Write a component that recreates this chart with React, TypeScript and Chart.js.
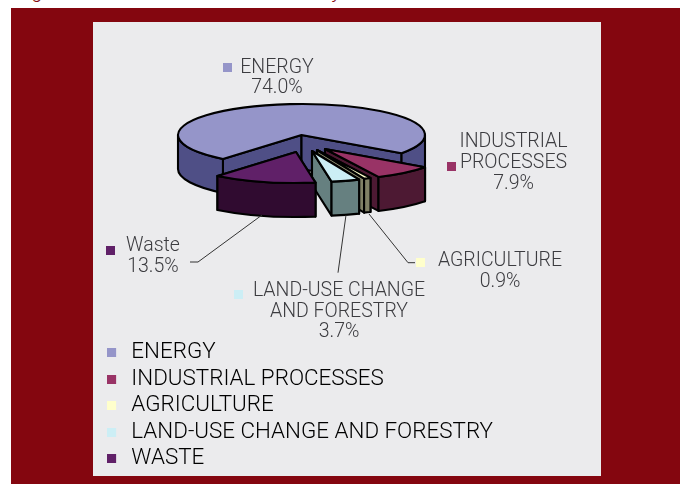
import React, { useEffect, useRef } from "react";
import { Chart, registerables } from "chart.js";

Chart.register(...registerables);

const categories = ["ENERGY", "INDUSTRIAL PROCESSES", "AGRICULTURE", "LAND-USE CHANGE AND FORESTRY", "WASTE"];
const shares = [74.0, 7.9, 0.9, 3.7, 13.5];
const topColors = ["#9595C9", "#993366", "#FFFFCC", "#CCEEF5", "#602068"];
const sideColors = ["#4F4F86", "#4D1933", "#808066", "#668080", "#300B30"];
const calloutLines = [["ENERGY"], ["INDUSTRIAL", "PROCESSES"], ["AGRICULTURE"], ["LAND-USE CHANGE", "AND FORESTRY"], ["Waste"]];

const FONT = "Roboto";
const TEXT = "#3c3c40";
const PIE = { cx: 301.5, cy: 135, rx: 123.5, ry: 31, depth: 34 };
const explodeX = [0, 23.5, 15.5, 10.5, -5.5];
const explodeY = [0, 14, 15, 16, 17];
const calloutLayout = [
  { x: 277, y: [72.7, 93.4], sq: [223, 63], leader: null },
  { x: 513.5, y: [146.7, 168.4, 188.7], sq: [447, 162], leader: null },
  { x: 500, y: [265.7, 286.7], sq: [416, 258], leader: [[415, 262.7], [408, 262.7], [369, 214]] },
  { x: 339, y: [295.7, 317.4, 337.4], sq: [234, 290], leader: [[338, 272.7], [346, 215]] },
  { x: 153, y: [251.4, 272.4], sq: [106, 246], leader: [[190, 262], [198, 262], [262, 215]] },
];

const pie3d = {
  id: "pie3d",
  afterLayout(chart: any) {
    const lg = chart.legend;
    lg.width = 500;
    lg.right = lg.left + 500;
  },
  beforeDatasetDraw(chart: any) {
    const ctx = chart.ctx;
    const arcs = chart.getDatasetMeta(0).data;
    const { rx, ry, depth } = PIE;
    arcs.forEach((arc: any, i: number) => {
      const cx = PIE.cx + explodeX[i];
      const cy = PIE.cy + explodeY[i];
      const a0 = arc.startAngle;
      const a1 = arc.endAngle;
      ctx.save();
      ctx.lineWidth = 2.1;
      ctx.lineJoin = "round";
      ctx.strokeStyle = "#000";
      ctx.fillStyle = sideColors[i];
      [a0, a1].forEach((a: number) => {
        const px = cx + rx * Math.cos(a);
        const py = cy + ry * Math.sin(a);
        ctx.beginPath();
        ctx.moveTo(cx, cy);
        ctx.lineTo(px, py);
        ctx.lineTo(px, py + depth);
        ctx.lineTo(cx, cy + depth);
        ctx.closePath();
        ctx.fill();
        ctx.stroke();
      });
      [0, 1].forEach((k) => {
        const lo = Math.max(a0, 2 * Math.PI * k);
        const hi = Math.min(a1, 2 * Math.PI * k + Math.PI);
        if (hi <= lo) return;
        ctx.beginPath();
        ctx.ellipse(cx, cy, rx, ry, 0, lo, hi);
        ctx.ellipse(cx, cy + depth, rx, ry, 0, hi, lo, true);
        ctx.closePath();
        ctx.fill();
        ctx.stroke();
      });
      ctx.save();
      ctx.translate(cx, cy);
      ctx.scale(rx / arc.outerRadius, ry / arc.outerRadius);
      ctx.translate(-arc.x, -arc.y);
      arc.draw(ctx);
      ctx.restore();
      ctx.beginPath();
      ctx.moveTo(cx, cy);
      ctx.ellipse(cx, cy, rx, ry, 0, a0, a1);
      ctx.closePath();
      ctx.stroke();
      ctx.restore();
    });
    return false;
  },
  afterDatasetsDraw(chart: any) {
    const ctx = chart.ctx;
    ctx.save();
    calloutLayout.forEach((c, i) => {
      ctx.fillStyle = topColors[i];
      ctx.fillRect(c.sq[0], c.sq[1], 9, 9);
      if (c.leader) {
        ctx.beginPath();
        ctx.strokeStyle = "#333";
        ctx.lineWidth = 1;
        c.leader.forEach((p, j) => (j ? ctx.lineTo(p[0], p[1]) : ctx.moveTo(p[0], p[1])));
        ctx.stroke();
      }
      ctx.fillStyle = TEXT;
      ctx.textAlign = "center";
      ctx.textBaseline = "alphabetic";
      ctx.font = `300 19.5px ${FONT}`;
      const lines = [...calloutLines[i], `${shares[i].toFixed(1)}%`];
      lines.forEach((t, j) => ctx.fillText(t, c.x, c.y[j]));
    });
    ctx.restore();
  },
};

function legendMarker(color: string) {
  const c = document.createElement("canvas");
  c.width = 13;
  c.height = 9;
  const g = c.getContext("2d")!;
  g.fillStyle = color;
  g.fillRect(0, 0, 9, 9);
  return c;
}

const fragment: React.CSSProperties = {
  position: "absolute",
  top: -19,
  font: "italic 300 20px/20px Roboto",
  color: "#84060F",
};

export default function App() {
  const ref = useRef<HTMLCanvasElement>(null);
  useEffect(() => {
    const chart = new Chart(ref.current!, {
      type: "pie",
      data: {
        labels: categories,
        datasets: [{ data: shares, backgroundColor: topColors, borderWidth: 0 }],
      },
      options: {
        responsive: false,
        animation: false,
        rotation: 219.5,
        layout: { padding: { left: 103, top: 20, right: 80, bottom: 10 } },
        plugins: {
          tooltip: { enabled: false },
          legend: {
            position: "left",
            align: "end",
            labels: {
              usePointStyle: true,
              pointStyleWidth: 13,
              padding: 4.1,
              color: TEXT,
              font: { family: FONT, size: 22.4, weight: "300" },
              generateLabels: () =>
                categories.map((text, i) => ({
                  text,
                  fillStyle: topColors[i],
                  strokeStyle: topColors[i],
                  lineWidth: 0,
                  pointStyle: legendMarker(topColors[i]),
                  hidden: false,
                  index: i,
                })),
            },
          },
        },
      } as any,
      plugins: [pie3d],
    });
    return () => chart.destroy();
  }, []);
  return (
    <div style={{ position: "fixed", left: 0, top: 0, width: 680, height: 484, background: "#fff", overflow: "hidden" }}>
      <span style={{ ...fragment, left: 33 }}>g</span>
      <span style={{ ...fragment, left: 333 }}>y</span>
      <div style={{ position: "absolute", left: 11, top: 8, width: 669, height: 476, background: "#84060F" }} />
      <div style={{ position: "absolute", left: 93, top: 22, width: 508, height: 454, background: "#EBEBED" }} />
      <canvas ref={ref} width={680} height={484} style={{ position: "absolute", left: 0, top: 0, width: 680, height: 484 }} />
    </div>
  );
}
